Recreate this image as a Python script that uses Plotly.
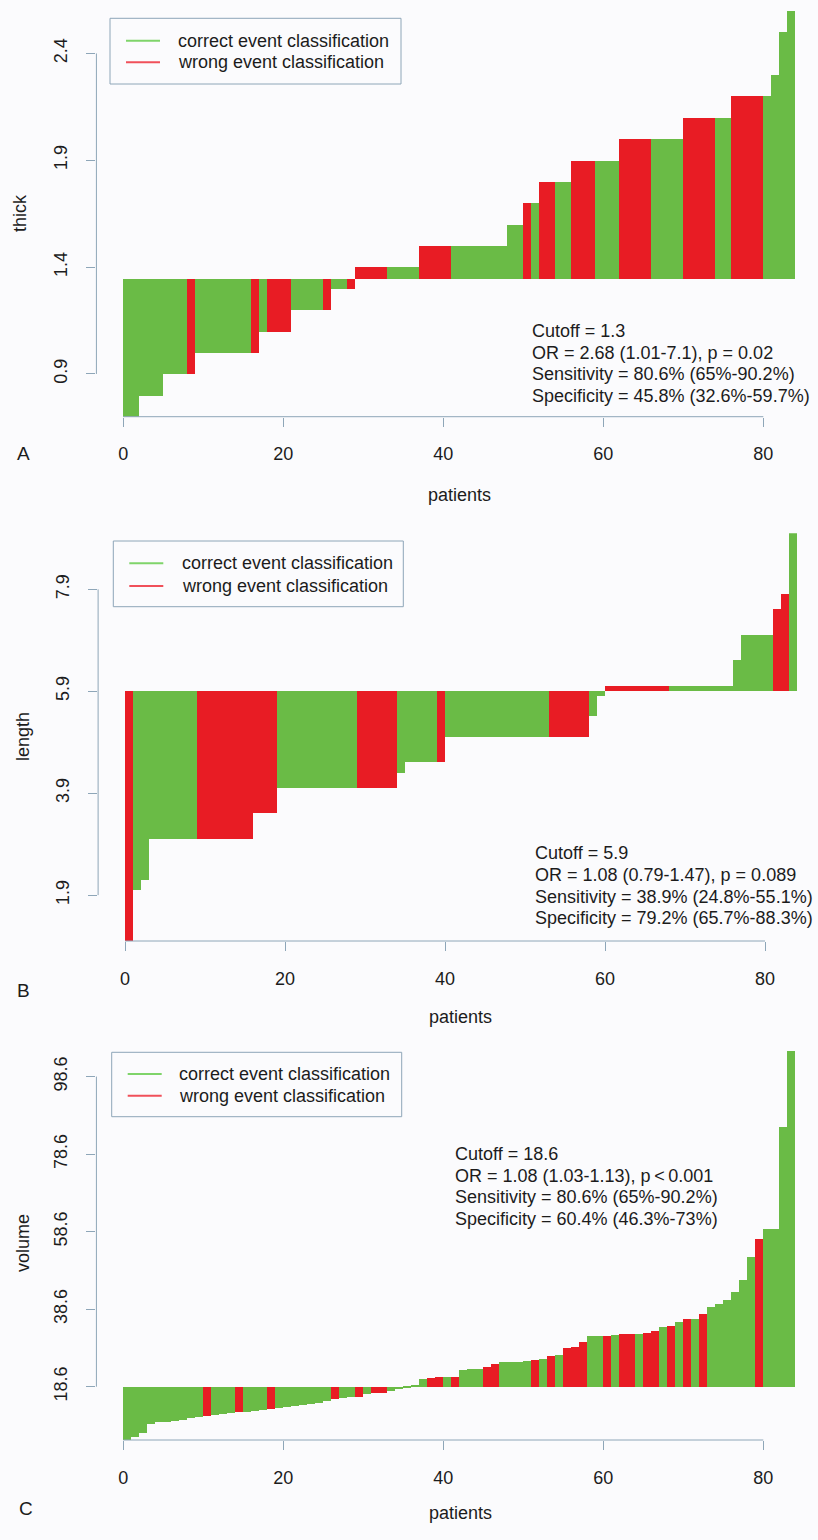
import plotly.graph_objects as go

W, H = 818, 1540

# ---- data: per-patient values sorted ascending, cutoff used as bar base ----
thick = [0.70, 0.70, 0.80, 0.80, 0.80, 0.90, 0.90, 0.90, 0.90, 1.00,
         1.00, 1.00, 1.00, 1.00, 1.00, 1.00, 1.00, 1.10, 1.10, 1.10,
         1.10, 1.20, 1.20, 1.20, 1.20, 1.20, 1.30, 1.30, 1.30, 1.40,
         1.40, 1.40, 1.40, 1.40, 1.40, 1.40, 1.40, 1.50, 1.50, 1.50,
         1.50, 1.50, 1.50, 1.50, 1.50, 1.50, 1.50, 1.50, 1.60, 1.60,
         1.70, 1.70, 1.80, 1.80, 1.80, 1.80, 1.90, 1.90, 1.90, 1.90,
         1.90, 1.90, 2.00, 2.00, 2.00, 2.00, 2.00, 2.00, 2.00, 2.00,
         2.10, 2.10, 2.10, 2.10, 2.10, 2.10, 2.20, 2.20, 2.20, 2.20,
         2.20, 2.30, 2.50, 2.60]
thick_wrong = [8, 16, 18, 19, 20, 25, 28, 29, 30, 31, 32, 37, 38, 39, 40,
               50, 52, 53, 56, 57, 58, 62, 63, 64, 65, 70, 71, 72, 73,
               76, 77, 78, 79]
thick_cutoff = 1.345
thick_ticks = [0.9, 1.4, 1.9, 2.4]

length = [1.0, 2.0, 2.2, 3.0, 3.0, 3.0, 3.0, 3.0, 3.0, 3.0,
          3.0, 3.0, 3.0, 3.0, 3.0, 3.0, 3.5, 3.5, 3.5, 4.0,
          4.0, 4.0, 4.0, 4.0, 4.0, 4.0, 4.0, 4.0, 4.0, 4.0,
          4.0, 4.0, 4.0, 4.0, 4.3, 4.5, 4.5, 4.5, 4.5, 4.5,
          5.0, 5.0, 5.0, 5.0, 5.0, 5.0, 5.0, 5.0, 5.0, 5.0,
          5.0, 5.0, 5.0, 5.0, 5.0, 5.0, 5.0, 5.0, 5.4, 5.8,
          6.0, 6.0, 6.0, 6.0, 6.0, 6.0, 6.0, 6.0, 6.0, 6.0,
          6.0, 6.0, 6.0, 6.0, 6.0, 6.0, 6.5, 7.0, 7.0, 7.0,
          7.0, 7.5, 7.8, 9.0]
length_wrong = [0, 9, 10, 11, 12, 13, 14, 15, 16, 17, 18, 29, 30, 31, 32, 33,
                39, 53, 54, 55, 56, 57, 60, 61, 62, 63, 64, 65, 66, 67, 81, 82]
length_cutoff = 5.9
length_ticks = [1.9, 3.9, 5.9, 7.9]

volume = [4.85, 5.7, 6.6, 8.9, 9.4, 9.6, 9.8, 10.1, 10.4, 10.8,
          11.1, 11.4, 11.6, 11.8, 12.0, 12.2, 12.4, 12.6, 12.8, 13.1,
          13.3, 13.6, 13.9, 14.2, 14.5, 14.9, 15.5, 15.8, 15.9, 16.0,
          16.6, 16.9, 17.0, 17.5, 18.0, 18.4, 18.8, 20.7, 20.9, 21.0,
          21.0, 21.0, 23.0, 23.1, 23.1, 23.6, 24.4, 25.0, 25.1, 25.1,
          25.3, 25.5, 25.7, 26.4, 26.9, 28.7, 28.9, 30.2, 31.7, 31.7,
          31.7, 31.9, 32.1, 32.1, 32.1, 32.5, 33.0, 33.9, 34.3, 35.4,
          36.0, 36.0, 37.3, 39.1, 39.9, 41.0, 43.0, 46.2, 52.0, 56.8,
          59.3, 59.3, 85.6, 105.2]
volume_wrong = [10, 14, 18, 26, 29, 31, 32, 38, 39, 41, 45, 46, 51, 53, 55,
                56, 57, 60, 62, 63, 65, 66, 68, 70, 72, 79]
volume_cutoff = 18.6
volume_ticks = [18.6, 38.6, 58.6, 78.6, 98.6]

x_ticks = [0, 20, 40, 60, 80]

legend_labels = ["correct event classification", "wrong event classification"]

stats_thick = ["Cutoff = 1.3",
               "OR = 2.68 (1.01-7.1), p = 0.02",
               "Sensitivity = 80.6% (65%-90.2%)",
               "Specificity = 45.8% (32.6%-59.7%)"]
stats_length = ["Cutoff = 5.9",
                "OR = 1.08 (0.79-1.47), p = 0.089",
                "Sensitivity = 38.9% (24.8%-55.1%)",
                "Specificity = 79.2% (65.7%-88.3%)"]
stats_volume = ["Cutoff = 18.6",
                "OR = 1.08 (1.03-1.13), p\u2009<\u20090.001",
                "Sensitivity = 80.6% (65%-90.2%)",
                "Specificity = 60.4% (46.3%-73%)"]

# ---- styling ----
GREEN = "#6abb46"
RED = "#e81c24"
LEG_GREEN = "#7fd46a"
LEG_RED = "#f0505a"
AXIS = "#8ea6b8"
TEXT = "#1c1c1c"
BG = "#fbfbfd"
FONT = "Liberation Sans, Arial, Helvetica, sans-serif"
FS = 18
PX_PER_PATIENT = 8.0
XPAD = 3.36  # R-style 4% extension of the patient axis


def px_x(p):
    return p / W


def px_y(p):
    return 1 - p / H


panels = [
    dict(values=thick, wrong=thick_wrong, base=thick_cutoff, yticks=thick_ticks,
         ytitle="thick", letter="A", stats=stats_thick,
         top=10.7, bottom=416.7, x0=123.3,
         ytitle_xy=(20, 213), xtitle_xy=(459, 495), letter_xy=(23, 453),
         stats_xy=(530, 331), legend_box=(110, 18.3, 401, 84),
         legend_rows=(40.7, 62.3), legend_line=(126, 160), legend_text_x=176),
    dict(values=length, wrong=length_wrong, base=length_cutoff, yticks=length_ticks,
         ytitle="length", letter="B", stats=stats_length,
         top=533.3, bottom=941.0, x0=125.0,
         ytitle_xy=(23, 737), xtitle_xy=(461, 1017), letter_xy=(23, 990),
         stats_xy=(532.7, 853.3), legend_box=(113.3, 541, 403.3, 606.7),
         legend_rows=(563.3, 586), legend_line=(129.3, 163.3), legend_text_x=180),
    dict(values=volume, wrong=volume_wrong, base=volume_cutoff, yticks=volume_ticks,
         ytitle="volume", letter="C", stats=stats_volume,
         top=1051.0, bottom=1440.0, x0=123.3,
         ytitle_xy=(23, 1243), xtitle_xy=(460, 1513), letter_xy=(26, 1508),
         stats_xy=(452.7, 1154), legend_box=(111.7, 1052.3, 401.7, 1116.7),
         legend_rows=(1074, 1095.7), legend_line=(127.7, 161.7), legend_text_x=176.7),
]

fig = go.Figure()
shapes = []
annotations = []
layout = {}

for k, p in enumerate(panels, start=1):
    xa = "x" if k == 1 else f"x{k}"
    ya = "y" if k == 1 else f"y{k}"
    vals = p["values"]
    n = len(vals)
    wrong = set(p["wrong"])
    colors = [RED if i in wrong else GREEN for i in range(n)]

    fig.add_trace(go.Bar(
        x=[i + 0.5 for i in range(n)],
        y=[v - p["base"] for v in vals],
        base=p["base"],
        width=1.0,
        marker=dict(color=colors, line=dict(width=0)),
        xaxis=xa, yaxis=ya, showlegend=False, hoverinfo="skip",
    ))

    left_px = p["x0"] - XPAD * PX_PER_PATIENT
    xmax = -XPAD + (W - left_px) / PX_PER_PATIENT

    axis_common = dict(showgrid=False, zeroline=False, showline=False,
                       ticks="outside", ticklen=9, tickwidth=1, tickcolor=AXIS,
                       tickfont=dict(family=FONT, size=FS, color=TEXT))
    layout["xaxis" if k == 1 else f"xaxis{k}"] = dict(
        domain=[px_x(left_px), 1.0], range=[-XPAD, xmax],
        anchor=ya, tickvals=x_ticks, ticklabelstandoff=12, **axis_common)
    layout["yaxis" if k == 1 else f"yaxis{k}"] = dict(
        domain=[px_y(p["bottom"]), px_y(p["top"])],
        range=[min(vals), max(vals)], anchor=xa,
        tickvals=p["yticks"], ticktext=[f"{t:g}" for t in p["yticks"]],
        tickangle=-90, ticklabelstandoff=12, **axis_common)

    # R-style axis lines spanning first to last tick
    shapes.append(dict(type="line", xref=f"{xa} domain", yref=ya,
                       x0=0, x1=0, y0=p["yticks"][0], y1=p["yticks"][-1],
                       line=dict(color=AXIS, width=1)))
    shapes.append(dict(type="line", xref=xa, yref=f"{ya} domain",
                       x0=x_ticks[0], x1=x_ticks[-1], y0=0, y1=0,
                       line=dict(color=AXIS, width=1)))

    # axis titles and panel letter
    tx, ty = p["ytitle_xy"]
    annotations.append(dict(text=p["ytitle"], x=px_x(tx), y=px_y(ty), xref="paper",
                            yref="paper", textangle=-90, showarrow=False,
                            xanchor="center", yanchor="middle",
                            font=dict(family=FONT, size=FS, color=TEXT)))
    tx, ty = p["xtitle_xy"]
    annotations.append(dict(text="patients", x=px_x(tx), y=px_y(ty), xref="paper",
                            yref="paper", showarrow=False, xanchor="center",
                            yanchor="middle", font=dict(family=FONT, size=FS, color=TEXT)))
    tx, ty = p["letter_xy"]
    annotations.append(dict(text=p["letter"], x=px_x(tx), y=px_y(ty), xref="paper",
                            yref="paper", showarrow=False, xanchor="center",
                            yanchor="middle", font=dict(family=FONT, size=19, color=TEXT)))

    # statistics block
    sx, sy = p["stats_xy"]
    for j, line in enumerate(p["stats"]):
        annotations.append(dict(text=line, x=px_x(sx), y=px_y(sy + j * 21.7),
                                xref="paper", yref="paper", showarrow=False,
                                xanchor="left", yanchor="middle",
                                font=dict(family=FONT, size=FS, color=TEXT)))

    # legend box
    bx0, by0, bx1, by1 = p["legend_box"]
    shapes.append(dict(type="rect", xref="paper", yref="paper",
                       x0=px_x(bx0), x1=px_x(bx1), y0=px_y(by1), y1=px_y(by0),
                       line=dict(color=AXIS, width=1), fillcolor="rgba(0,0,0,0)"))
    lx0, lx1 = p["legend_line"]
    for row_y, label, col in zip(p["legend_rows"], legend_labels, [LEG_GREEN, LEG_RED]):
        shapes.append(dict(type="line", xref="paper", yref="paper",
                           x0=px_x(lx0), x1=px_x(lx1), y0=px_y(row_y), y1=px_y(row_y),
                           line=dict(color=col, width=2)))
        annotations.append(dict(text=label, x=px_x(p["legend_text_x"]), y=px_y(row_y),
                                xref="paper", yref="paper", showarrow=False,
                                xanchor="left", yanchor="middle",
                                font=dict(family=FONT, size=FS, color=TEXT)))

fig.update_layout(
    width=W, height=H, autosize=False,
    margin=dict(l=0, r=0, t=0, b=0, pad=0),
    paper_bgcolor=BG, plot_bgcolor=BG,
    bargap=0, barmode="overlay",
    shapes=shapes, annotations=annotations,
    font=dict(family=FONT, size=FS, color=TEXT),
    **layout,
)

fig.write_html("out.html")
